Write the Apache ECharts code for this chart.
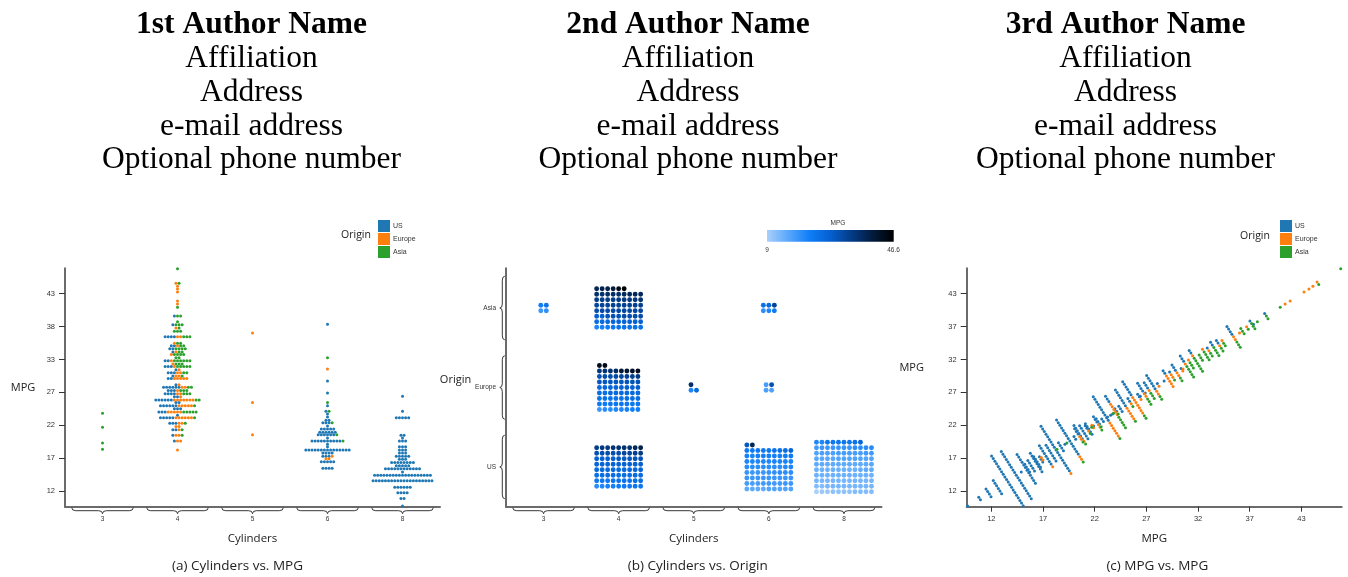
<!DOCTYPE html>
<html><head><meta charset="utf-8">
<script src="https://cdn.jsdelivr.net/npm/echarts@6/dist/echarts.min.js"></script>
<style>html,body{margin:0;padding:0;background:#fff;}#chart{width:1348px;height:577px;}</style>
</head><body><div id="chart"></div>
<script>
// ---------------- data ----------------
const CYLINDERS = ['3', '4', '5', '6', '8'];
const ORIGINS = ['US', 'Europe', 'Asia'];
const ORIGIN_COLORS = ['#1f77b4', '#ff7f0e', '#2ca02c'];
const MPG_MIN = 9, MPG_MAX = 46.6;
const MPG_TICKS = [11.38, 16.6, 21.8, 27.01, 32.22, 37.43, 42.64];
const MPG_LABELS_A = ['12', '17', '22', '27', '33', '38', '43'];
const MPG_LABELS_C = ['12', '17', '22', '27', '32', '37', '43'];
const MPG_COLORS = ['#a9cffb', '#5aa8fb', '#0f7ef8', '#0560d0', '#033b85', '#021b3d', '#000000'];

const mpgAsia3 = [18, 19, 21.5, 23.7];
const mpgUS4 = [39.1, 37.7, 35.8, 35.8, 35.8, 35.8, 34.4, 34.4, 33.9, 33.9, 33.4, 32.0, 32.0,
  31.1, 31.1, 31.1, 30.6, 30.1, 30.1, 30.1, 29.6, 29.2, 29.2, 28.2,
  27.8, 27.8, 27.8, 27.8, 27.8, 27.8, 27.3, 27.3, 27.3, 26.8, 26.8, 26.8, 26.8, 26.3, 26.3,
  25.8, 25.8, 25.8, 25.8, 25.8, 25.8, 25.4, 25.4, 24.9, 24.9, 24.9, 24.9, 24.9, 24.9,
  24.4, 24.4, 24.4, 23.9, 23.9, 23.9, 23.4, 23.0, 23.0, 23.0, 23.0, 23.0,
  22.1, 22.1, 22.1, 21.1, 21.1, 20.2, 19.3];
const mpgEurope4 = [44.3, 43.8, 43.4, 42.9, 41.5, 41.0, 37.2, 35.8, 35.8, 34.8, 34.4, 33.4, 33.0,
  32.0, 31.5, 31.1, 30.6, 30.1, 30.1, 29.6, 29.6, 29.2, 29.2, 29.2, 29.2, 29.2, 28.2,
  27.8, 27.8, 27.3, 26.8, 26.8, 26.3, 25.8, 25.8, 25.8, 25.8, 25.8, 25.8, 25.8,
  24.9, 24.9, 24.9, 24.9, 24.9, 23.9, 23.9, 23.9, 23.9, 23.9, 23.0, 23.0, 23.0, 23.0, 23.0, 23.0,
  22.1, 22.1, 21.6, 21.6, 21.1, 20.2, 20.2, 19.3, 19.3, 17.9];
const mpgAsia4 = [46.6, 44.3, 40.5, 39.1, 39.1, 38.2, 37.7, 37.7, 37.7, 37.2, 36.7, 36.7, 36.7,
  35.8, 35.8, 35.8, 34.8, 34.8, 34.4, 34.4, 33.9, 33.9, 33.9, 33.9, 33.4, 33.4,
  33.0, 33.0, 33.0, 33.0, 32.5, 32.5, 32.0, 32.0, 32.0, 32.0, 32.0, 32.0, 31.5, 31.5, 31.5,
  31.1, 31.1, 31.1, 31.1, 31.1, 30.1, 30.1, 29.6, 27.8, 27.8, 27.3, 27.3, 27.3,
  26.8, 26.8, 26.8, 25.8, 25.8, 24.9, 23.9, 23.9, 23.9, 23.9, 23.9, 23.0, 22.1, 21.1, 20.2];
const mpgEurope5 = [36.4, 25.4, 20.3];
const mpgUS6 = [37.8, 28.8, 26.9, 24.9, 24.0, 23.6, 23.1, 22.6, 22.6, 22.2, 22.2, 22.2, 21.7,
  21.2, 21.2, 21.2, 21.2, 21.2, 20.7, 20.7, 20.7, 20.7, 20.7, 20.7, 20.3, 20.3, 20.3, 20.3, 20.3, 20.3,
  19.8, 19.3, 19.3, 19.3, 19.3, 19.3, 19.3, 19.3, 19.3, 19.3, 19.3, 18.8, 18.4,
  17.9, 17.9, 17.9, 17.9, 17.9, 17.9, 17.9, 17.9, 17.9, 17.9, 17.9, 17.9, 17.9, 17.9, 17.9,
  17.4, 17.4, 17.4, 17.4, 16.9, 16.9, 16.9, 16.0, 16.0, 16.0, 16.0, 16.0, 15.0, 15.0, 15.0, 15.0];
const mpgEurope6 = [30.7, 16.9, 16.5, 16.5];
const mpgAsia6 = [32.5, 25.4, 24.0, 22.2, 20.3, 19.3];
const mpgUS8 = [26.4, 24.0, 23.0, 23.0, 23.0, 23.0, 23.0, 20.2, 20.2, 19.8, 19.3, 19.3, 19.3,
  18.4, 18.4, 18.4, 17.9, 17.9, 17.9, 17.4, 17.4, 17.4, 16.9, 16.9, 16.9, 16.9, 16.9,
  16.4, 16.4, 16.4, 15.9, 15.9, 15.9, 15.9, 15.9, 15.9, 15.9, 15.9, 15.4, 15.4, 15.4, 15.4, 15.4,
  14.9, 14.9, 14.9, 14.9, 14.9, 14.9, 14.9, 14.9, 14.9, 14.9, 14.9, 14.9, 14.4,
  13.9, 13.9, 13.9, 13.9, 13.9, 13.9, 13.9, 13.9, 13.9, 13.9, 13.9, 13.9, 13.9, 13.9, 13.9, 13.9, 13.9, 13.9, 13.9,
  13.0, 13.0, 13.0, 13.0, 13.0, 13.0, 13.0, 13.0, 13.0, 13.0, 13.0, 13.0, 13.0, 13.0, 13.0, 13.0, 13.0, 13.0, 13.0, 13.0,
  12.0, 12.0, 12.0, 12.0, 12.0, 12.0, 11.1, 11.1, 11.1, 11.1, 10.2, 10.2, 9.0];

const HEADERS = [
  ['1st Author Name', 'Affiliation', 'Address', 'e-mail address', 'Optional phone number'],
  ['2nd Author Name', 'Affiliation', 'Address', 'e-mail address', 'Optional phone number'],
  ['3rd Author Name', 'Affiliation', 'Address', 'e-mail address', 'Optional phone number']
];
const CAPTIONS = ['(a) Cylinders vs. MPG', '(b) Cylinders vs. Origin', '(c) MPG vs. MPG'];

// group table: [cylinder index, origin index, values]
const GROUPS = [
  [0, 2, mpgAsia3], [1, 0, mpgUS4], [1, 1, mpgEurope4], [1, 2, mpgAsia4],
  [2, 1, mpgEurope5], [3, 0, mpgUS6], [3, 1, mpgEurope6], [3, 2, mpgAsia6], [4, 0, mpgUS8]
];

// ---------------- layout helpers (derived from data) ----------------
const records = [];
GROUPS.forEach(([c, o, vals]) => vals.forEach(v => records.push({ c, o, v })));

// (a) beeswarm: group by cylinder + value, order US, Europe, Asia
const swarmData = [[], [], []];
CYLINDERS.forEach((_, c) => {
  const rows = {};
  records.filter(r => r.c === c).forEach(r => { (rows[r.v.toFixed(1)] = rows[r.v.toFixed(1)] || []).push(r); });
  Object.values(rows).forEach(list => {
    list.sort((a, b) => a.o - b.o);
    list.forEach((r, k) => swarmData[r.o].push([r.c, r.v, k, list.length]));
  });
});

// (c) dodge along anti-diagonal: group by value across all cars
const dodgeData = [[], [], []];
{
  const rows = {};
  records.forEach(r => { (rows[r.v.toFixed(1)] = rows[r.v.toFixed(1)] || []).push(r); });
  Object.values(rows).forEach(list => {
    list.sort((a, b) => a.o - b.o || a.c - b.c);
    list.forEach((r, k) => dodgeData[r.o].push([r.v, r.v, k, list.length]));
  });
}

// (b) unit grid per cylinder x origin, sorted by MPG
const gridData = [];
GROUPS.forEach(([c, o, vals]) => {
  const sorted = vals.slice().sort((a, b) => a - b);
  const n = sorted.length;
  const cols = Math.round(Math.sqrt(n) + 0.25);
  const nRows = Math.ceil(n / cols);
  sorted.forEach((v, i) => gridData.push([c, o, v, i % cols, Math.floor(i / cols), cols, nRows]));
});

// ---------------- rendering ----------------
const SWARM_STEP = 3.1, SWARM_R = 1.5, GRID_STEP = 5.5, GRID_R = 2.45;

function renderSwarm(params, api) {
  const p = api.coord([api.value(0), api.value(1)]);
  const k = api.value(2), n = api.value(3);
  return { type: 'circle', shape: { cx: p[0] + (k - (n - 1) / 2) * SWARM_STEP, cy: p[1], r: SWARM_R },
    style: { fill: api.visual('color') } };
}
function renderDodge(params, api) {
  const v = api.value(0);
  const p = api.coord([v, api.value(1)]);
  const a = api.coord([MPG_MIN, MPG_MIN]), b = api.coord([MPG_MAX, MPG_MAX]);
  let ux = -(b[1] - a[1]), uy = b[0] - a[0];
  const len = Math.sqrt(ux * ux + uy * uy); ux /= len; uy /= len;
  const off = (api.value(2) - (api.value(3) - 1) / 2) * SWARM_STEP;
  return { type: 'circle', shape: { cx: p[0] + ux * off, cy: p[1] + uy * off, r: SWARM_R },
    style: { fill: api.visual('color') } };
}
function renderGrid(params, api) {
  const c = api.coord([api.value(0), api.value(1)]);
  const cols = api.value(5), nRows = api.value(6);
  const w = cols * GRID_STEP, h = nRows * GRID_STEP;
  return { type: 'circle', shape: {
      cx: c[0] - w / 2 + (api.value(3) + 0.5) * GRID_STEP,
      cy: c[1] + h / 2 - (api.value(4) + 0.5) * GRID_STEP, r: GRID_R },
    style: { fill: api.visual('color') } };
}
const BRACE_STYLE = { stroke: '#222', lineWidth: 0.9, fill: 'none' };
function braceH(x0, x1, y0, h) {
  const xm = (x0 + x1) / 2, ym = y0 + h * 0.5, r = 4, s = BRACE_STYLE;
  return { type: 'group', children: [
    { type: 'bezierCurve', shape: { x1: x0, y1: y0, cpx1: x0, cpy1: ym, x2: x0 + r, y2: ym }, style: s },
    { type: 'line', shape: { x1: x0 + r, y1: ym, x2: xm - r, y2: ym }, style: s },
    { type: 'bezierCurve', shape: { x1: xm - r, y1: ym, cpx1: xm, cpy1: ym, x2: xm, y2: y0 + h }, style: s },
    { type: 'bezierCurve', shape: { x1: xm, y1: y0 + h, cpx1: xm, cpy1: ym, x2: xm + r, y2: ym }, style: s },
    { type: 'line', shape: { x1: xm + r, y1: ym, x2: x1 - r, y2: ym }, style: s },
    { type: 'bezierCurve', shape: { x1: x1 - r, y1: ym, cpx1: x1, cpy1: ym, x2: x1, y2: y0 }, style: s }
  ] };
}
function braceV(y0, y1, x0, w) {
  const ym = (y0 + y1) / 2, xm = x0 - w * 0.5, r = 4, s = BRACE_STYLE;
  return { type: 'group', children: [
    { type: 'bezierCurve', shape: { x1: x0, y1: y0, cpx1: xm, cpy1: y0, x2: xm, y2: y0 + r }, style: s },
    { type: 'line', shape: { x1: xm, y1: y0 + r, x2: xm, y2: ym - r }, style: s },
    { type: 'bezierCurve', shape: { x1: xm, y1: ym - r, cpx1: xm, cpy1: ym, x2: x0 - w, y2: ym }, style: s },
    { type: 'bezierCurve', shape: { x1: x0 - w, y1: ym, cpx1: xm, cpy1: ym, x2: xm, y2: ym + r }, style: s },
    { type: 'line', shape: { x1: xm, y1: ym + r, x2: xm, y2: y1 - r }, style: s },
    { type: 'bezierCurve', shape: { x1: xm, y1: y1 - r, cpx1: xm, cpy1: y1, x2: x0, y2: y1 }, style: s }
  ] };
}
function renderXBrace(params, api) {
  const cs = params.coordSys;
  const cx = api.coord([api.value(0), api.value(1)])[0];
  const half = api.size([1, 0])[0] * 0.41;
  return braceH(cx - half, cx + half, cs.y + cs.height + 1, 6);
}
function renderYBrace(params, api) {
  const cs = params.coordSys;
  const cy = api.coord([api.value(0), api.value(1)])[1];
  const half = api.size([1, 1])[1] * 0.4;
  return braceV(cy - half, cy + half, cs.x - 1.2, 5);
}

const tickLabel = labels => v => {
  const i = MPG_TICKS.findIndex(t => Math.abs(t - v) < 1e-6);
  return i >= 0 ? labels[i] : '';
};

const AXIS_LINE = { show: true, onZero: false, lineStyle: { color: '#6b6b6b', width: 2 } };
const TICK_FONT = { fontSize: 7.5, color: '#333', fontFamily: 'Liberation Sans' };
const XNAME_FONT = { fontSize: 11.5, color: '#222', fontFamily: 'Open Sans' };
const YNAME_FONT = { fontSize: 11, color: '#222', fontFamily: 'Open Sans' };

function catX(gridIndex) {
  return { type: 'category', gridIndex, data: CYLINDERS, boundaryGap: true,
    axisLine: AXIS_LINE, axisTick: { show: false },
    axisLabel: { margin: 9, fontSize: 6.5, color: '#333', fontFamily: 'Liberation Sans' },
    name: 'Cylinders', nameLocation: 'middle', nameGap: 32,
    nameTextStyle: Object.assign({ verticalAlign: 'middle' }, XNAME_FONT), splitLine: { show: false } };
}
function mpgAxis(gridIndex, labels, extra) {
  return Object.assign({ type: 'value', gridIndex, min: 8.9, max: 46.66,
    axisLine: AXIS_LINE, splitLine: { show: false },
    axisTick: { show: true, customValues: MPG_TICKS, length: 6, lineStyle: { color: '#333', width: 1 } },
    axisLabel: Object.assign({ customValues: MPG_TICKS, formatter: tickLabel(labels), margin: 10 }, TICK_FONT)
  }, extra);
}

const textStyle = (text, x, y, font, fill) => ({ type: 'text', silent: true,
  style: { text, x, y, font, fill, align: 'center', verticalAlign: 'middle', textAlign: 'center', textVerticalAlign: 'middle' } });

const graphics = [];
HEADERS.forEach((lines, p) => {
  lines.forEach((t, i) => graphics.push(textStyle(t, [251.5, 688, 1125.5][p], 25 + i * 33.8,
    (i === 0 ? 'bold ' : '') + '31.5px "Liberation Serif"', '#000')));
});
CAPTIONS.forEach((t, p) => graphics.push(textStyle(t, [237.5, 697.7, 1157.3][p], 566, '13.5px "Open Sans"', '#222')));
[[356, 235.5], [1255, 236.5]].forEach(([x, y]) => graphics.push(textStyle('Origin', x, y, '10.5px "Open Sans"', '#222')));
// y-axis titles of panels (b) and (c), placed as in the reference
graphics.push(textStyle('Origin', 455.5, 379.5, '11px "Open Sans"', '#222'));
graphics.push(textStyle('MPG', 911.7, 368, '11px "Open Sans"', '#222'));
graphics.push({ type: 'rect', silent: true, shape: { x: 767, y: 230, width: 126.7, height: 11.7 },
  style: { fill: new echarts.graphic.LinearGradient(0, 0, 1, 0,
    MPG_COLORS.map((c, i) => ({ offset: i / (MPG_COLORS.length - 1), color: c }))) } });
[['MPG', 838, 223.5], [String(MPG_MIN), 767, 250], [String(MPG_MAX), 893.5, 250]].forEach(([t, x, y]) =>
  graphics.push(textStyle(t, x, y, '6.5px "Liberation Sans"', '#333')));

const legendBase = { orient: 'vertical', top: 220, itemWidth: 12, itemHeight: 12, itemGap: 1, padding: 0,
  icon: 'rect', textStyle: { fontSize: 7, color: '#333', fontFamily: 'Liberation Sans', padding: [0, 0, 0, -2] },
  data: ORIGINS };

const series = [];
ORIGINS.forEach((name, o) => series.push({ type: 'custom', name, xAxisIndex: 0, yAxisIndex: 0,
  renderItem: renderSwarm, data: swarmData[o], encode: { x: 0, y: 1 },
  itemStyle: { color: ORIGIN_COLORS[o] }, clip: false, animation: false }));
series.push({ type: 'custom', name: 'MPG', xAxisIndex: 1, yAxisIndex: 1, renderItem: renderGrid,
  data: gridData, encode: { x: 0, y: 1 }, clip: false, animation: false });
ORIGINS.forEach((name, o) => series.push({ type: 'custom', name, xAxisIndex: 2, yAxisIndex: 2,
  renderItem: renderDodge, data: dodgeData[o], encode: { x: 0, y: 1 },
  itemStyle: { color: ORIGIN_COLORS[o] }, clip: false, animation: false }));
series.push({ type: 'custom', name: 'braceA', xAxisIndex: 0, yAxisIndex: 0, renderItem: renderXBrace, silent: true,
  data: CYLINDERS.map((_, i) => [i, MPG_MIN]), encode: { x: 0, y: 1 }, clip: false, animation: false });
series.push({ type: 'custom', name: 'braceBx', xAxisIndex: 1, yAxisIndex: 1, renderItem: renderXBrace, silent: true,
  data: CYLINDERS.map((_, i) => [i, 0]), encode: { x: 0, y: 1 }, clip: false, animation: false });
series.push({ type: 'custom', name: 'braceBy', xAxisIndex: 1, yAxisIndex: 1, renderItem: renderYBrace, silent: true,
  data: ORIGINS.map((_, i) => [0, i]), encode: { x: 0, y: 1 }, clip: false, animation: false });

const option = {
  backgroundColor: '#fff',
  animation: false,
  textStyle: { fontFamily: 'Liberation Sans' },
  grid: [
    { left: 65, top: 268.3, width: 375, height: 238.4 },
    { left: 506, top: 268.3, width: 375.5, height: 238.4 },
    { left: 966.7, top: 268.3, width: 375, height: 238.4 }
  ],
  xAxis: [
    catX(0),
    catX(1),
    mpgAxis(2, MPG_LABELS_C, { min: 8.9, max: 46.7, name: 'MPG', nameLocation: 'middle', nameGap: 32,
      axisTick: { show: true, customValues: MPG_TICKS, length: 5, lineStyle: { color: '#333', width: 1 } },
      axisLabel: Object.assign({ customValues: MPG_TICKS, formatter: tickLabel(MPG_LABELS_C), margin: 8 }, TICK_FONT),
      nameTextStyle: Object.assign({ verticalAlign: 'middle' }, XNAME_FONT) })
  ],
  yAxis: [
    mpgAxis(0, MPG_LABELS_A, { name: 'MPG', nameLocation: 'middle', nameRotate: 0, nameGap: 42,
      nameTextStyle: Object.assign({ align: 'center', verticalAlign: 'middle' }, YNAME_FONT) }),
    { type: 'category', gridIndex: 1, data: ORIGINS, boundaryGap: true, axisLine: AXIS_LINE,
      axisTick: { show: false }, axisLabel: { margin: 10, fontSize: 6.5, color: '#333', fontFamily: 'Liberation Sans' },
      splitLine: { show: false } },
    mpgAxis(2, MPG_LABELS_C, {})
  ],
  visualMap: { type: 'continuous', show: false, min: MPG_MIN, max: MPG_MAX, dimension: 2, seriesIndex: 3,
    inRange: { color: MPG_COLORS } },
  legend: [Object.assign({ left: 378 }, legendBase), Object.assign({ left: 1280 }, legendBase)],
  graphic: graphics,
  series
};

const chart = echarts.init(document.getElementById('chart'), null, { renderer: 'canvas' });
chart.setOption(option);
</script>
</body></html>
